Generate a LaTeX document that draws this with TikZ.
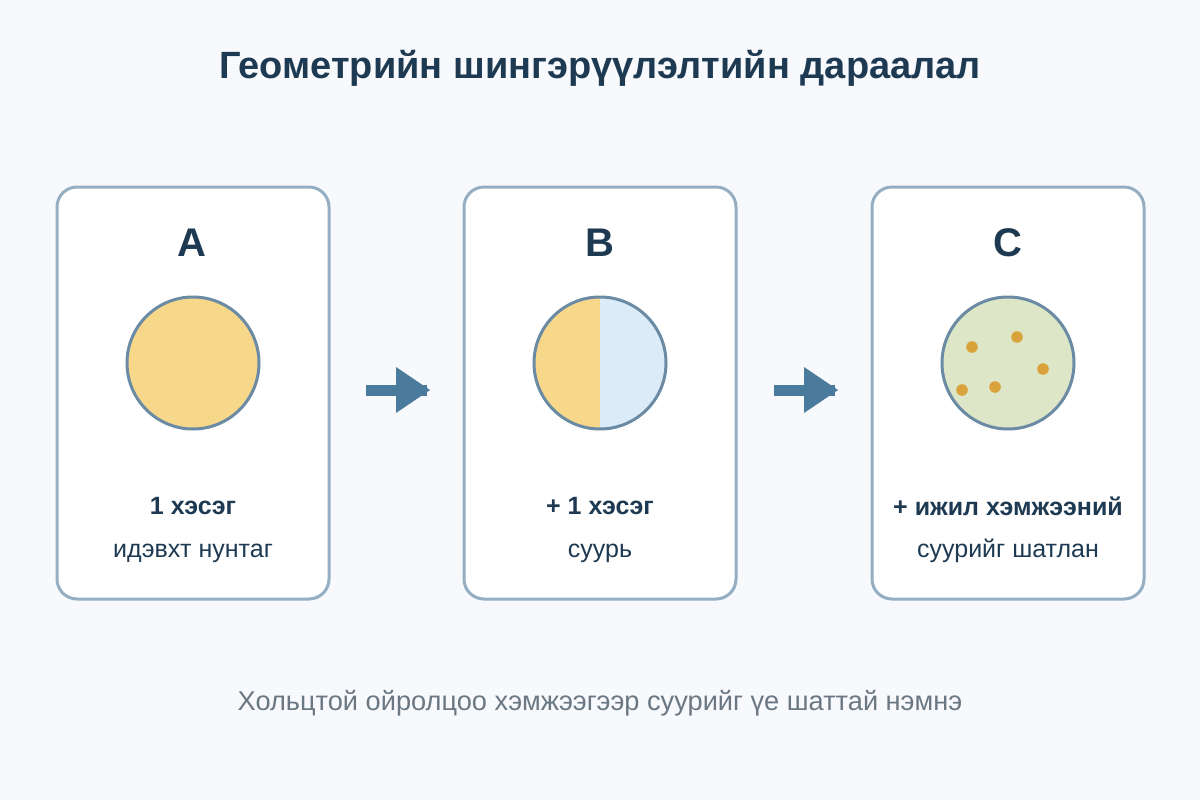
\documentclass[tikz,border=0pt]{standalone}
\usepackage{fontspec}
\setmainfont{Liberation Sans}
\definecolor{bg}{HTML}{F7F9FC}
\definecolor{cardline}{HTML}{94AEC3}
\definecolor{circline}{HTML}{6B8BA4}
\definecolor{navy}{HTML}{1E3A52}
\definecolor{grayt}{HTML}{6B7782}
\definecolor{yel}{HTML}{F7D78A}
\definecolor{lblue}{HTML}{DCEBF8}
\definecolor{lgreen}{HTML}{DDE7C7}
\definecolor{dot}{HTML}{D9A23A}
\definecolor{arr}{HTML}{4A7A9C}
\begin{document}
\begin{tikzpicture}[x=1pt,y=-1pt,
  card/.style={draw=cardline,line width=3pt,fill=white,rounded corners=20pt},
  circ/.style={draw=circline,line width=3pt},
  letter/.style={font=\bfseries\fontsize{40}{44}\selectfont,text=navy},
  head/.style={font=\bfseries\fontsize{25}{29}\selectfont,text=navy},
  sub/.style={font=\fontsize{25}{29}\selectfont,text=navy},
  grain/.style={fill=dot,draw=none}]
\fill[bg] (0,0) rectangle (1200,800);
\useasboundingbox (0,0) rectangle (1200,800);
\node[font=\bfseries\fontsize{38}{44}\selectfont,text=navy] (title) at (600,68) {Геометрийн шингэрүүлэлтийн дараалал};
% cards
\draw[card] (57,187) rectangle (329,599);
\draw[card] (464,187) rectangle (736,599);
\draw[card] (872,187) rectangle (1144,599);
\node[letter] (la) at (192,243) {A};
\node[letter] (lb) at (600,243) {B};
\node[letter] (lc) at (1008,243) {C};
% circle A
\draw[circ,fill=yel] (193,363) circle (66);
% circle B
\fill[yel] (600,297) arc (-90:-270:66) -- cycle;
\fill[lblue] (600,297) arc (-90:90:66) -- cycle;
\draw[circ] (600,363) circle (66);
% circle C
\draw[circ,fill=lgreen] (1008,363) circle (66);
\fill[grain] (972,347) circle (5.8);
\fill[grain] (1017,337) circle (5.8);
\fill[grain] (1043,369) circle (5.8);
\fill[grain] (962,390) circle (5.8);
\fill[grain] (995,387) circle (5.8);
% arrows
\fill[arr] (366,385) rectangle (427,396);
\fill[arr] (396,367) -- (430,390) -- (396,413) -- cycle;
\fill[arr] (774,385) rectangle (835,396);
\fill[arr] (804,367) -- (838,390) -- (804,413) -- cycle;
% texts
\node[head] (ha) at (193,506) {1 хэсэг};
\node[sub] (sa) at (193,553) {идэвхт нунтаг};
\node[head] (hb) at (600,506) {+ 1 хэсэг};
\node[sub] (sb) at (600,553) {суурь};
\node[head] (hc) at (1008,506) {+ ижил хэмжээний};
\node[sub] (sc) at (1008,551) {суурийг шатлан};
\node[font=\fontsize{27.2}{31}\selectfont,text=grayt] (foot) at (600,703) {Хольцтой ойролцоо хэмжээгээр суурийг үе шаттай нэмнэ};
\end{tikzpicture}
\end{document}
